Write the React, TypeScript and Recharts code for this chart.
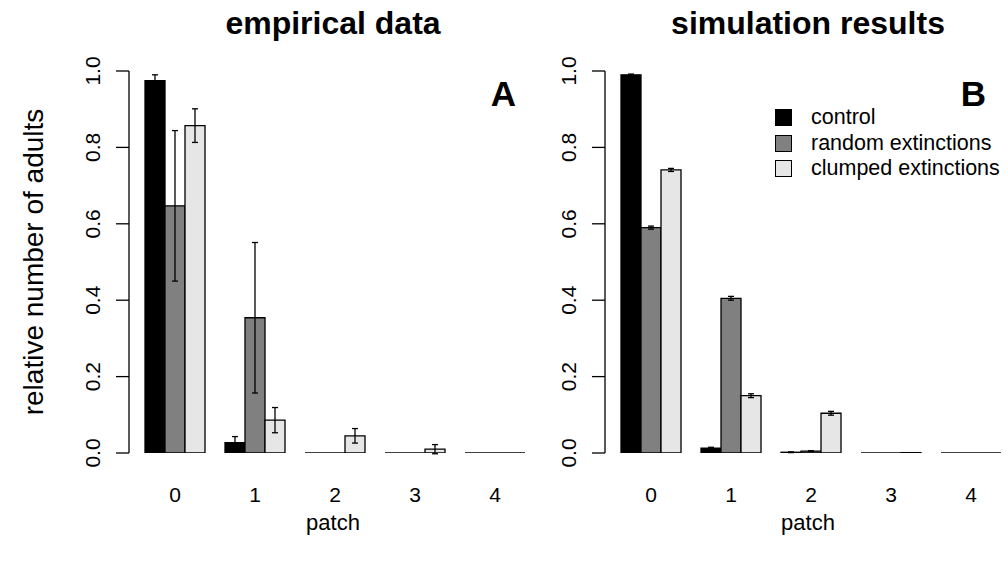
import { BarChart, Bar, XAxis, YAxis, ErrorBar, Legend } from "recharts";

const FONT = "'Liberation Sans', Arial, Helvetica, sans-serif";

const patches = ["0", "1", "2", "3", "4"];
const yTicks = [0, 0.2, 0.4, 0.6, 0.8, 1];
const seriesNames = ["control", "random extinctions", "clumped extinctions"];
const seriesFills = ["#000000", "#808080", "#e6e6e6"];

// empirical data (panel A)
const empControl = [0.975, 0.027, 0, 0, 0];
const empControlErr = [0.015, 0.016, 0, 0, 0];
const empRandom = [0.647, 0.354, 0, 0, 0];
const empRandomErr = [0.197, 0.197, 0, 0, 0];
const empClumped = [0.857, 0.086, 0.045, 0.01, 0];
const empClumpedErr = [0.044, 0.033, 0.019, 0.012, 0];

// simulation results (panel B)
const simControl = [0.99, 0.013, 0.002, 0, 0];
const simControlErr = [0.002, 0.002, 0.001, 0, 0];
const simRandom = [0.59, 0.405, 0.005, 0, 0];
const simRandomErr = [0.004, 0.005, 0.001, 0, 0];
const simClumped = [0.741, 0.15, 0.104, 0.001, 0];
const simClumpedErr = [0.004, 0.005, 0.005, 0, 0];

const empData = patches.map((p, i) => ({
  patch: p,
  control: empControl[i],
  controlErr: empControlErr[i],
  random: empRandom[i],
  randomErr: empRandomErr[i],
  clumped: empClumped[i],
  clumpedErr: empClumpedErr[i],
}));

const simData = patches.map((p, i) => ({
  patch: p,
  control: simControl[i],
  controlErr: simControlErr[i],
  random: simRandom[i],
  randomErr: simRandomErr[i],
  clumped: simClumped[i],
  clumpedErr: simClumpedErr[i],
}));

const keys = ["control", "random", "clumped"];

// R-style bar: outlined, zero-height bars still show as a line
const RBar = (props: any) => {
  const { x, y, width, height, fill } = props;
  const h = height || 0;
  return (
    <path
      d={`M${x},${y}h${width}v${h}h${-width}Z`}
      fill={fill}
      stroke="#000"
      strokeWidth={1.3}
    />
  );
};

const YTick = (props: any) => {
  const { x, y, payload } = props;
  return (
    <text
      x={x}
      y={y}
      transform={`rotate(-90 ${x} ${y})`}
      textAnchor="middle"
      fontSize={21}
      fontFamily={FONT}
      fill="#000"
    >
      {Number(payload.value).toFixed(1)}
    </text>
  );
};

const XTick = (props: any) => {
  const { x, y, payload } = props;
  return (
    <text x={x} y={y} textAnchor="middle" fontSize={21} fontFamily={FONT} fill="#000">
      {payload.value}
    </text>
  );
};

const LegendBox = (props: any) => {
  const items = [...(props.payload || [])].sort(
    (a: any, b: any) => seriesNames.indexOf(a.value) - seriesNames.indexOf(b.value)
  );
  return (
    <div style={{ fontFamily: FONT, fontSize: 21.5, color: "#000" }}>
      {items.map((e: any) => (
        <div key={e.value} style={{ display: "flex", alignItems: "center", height: 25.5 }}>
          <span
            style={{
              display: "inline-block",
              width: 15,
              height: 15,
              background: e.color,
              border: "1.3px solid #000",
              marginRight: 19,
            }}
          />
          <span style={{ whiteSpace: "nowrap" }}>{e.value}</span>
        </div>
      ))}
    </div>
  );
};

const Panel = ({ data, legend }: { data: any[]; legend?: boolean }) => (
  <BarChart
    width={535}
    height={561}
    data={data}
    margin={{ top: 71, right: 0, bottom: 0, left: 0 }}
    barCategoryGap={10}
    barGap={0}
  >
    <XAxis
      dataKey="patch"
      height={108}
      axisLine={false}
      tickLine={false}
      tickSize={0}
      tickMargin={49}
      interval={0}
      padding={{ left: 6, right: 0 }}
      tick={<XTick />}
    />
    <YAxis
      type="number"
      width={129}
      domain={[0, 1]}
      ticks={yTicks}
      allowDataOverflow
      tickSize={13}
      tickMargin={16}
      axisLine={{ stroke: "#000", strokeWidth: 1.3 }}
      tickLine={{ stroke: "#000", strokeWidth: 1.3 }}
      tick={<YTick />}
    />
    {keys.map((k, i) => (
      <Bar
        key={k}
        dataKey={k}
        name={seriesNames[i]}
        fill={seriesFills[i]}
        shape={RBar}
        isAnimationActive={false}
      >
        <ErrorBar dataKey={`${k}Err`} width={3} stroke="#000" strokeWidth={1.3} direction="y" />
      </Bar>
    ))}
    {legend && (
      <Legend
        layout="vertical"
        align="center"
        verticalAlign="middle"
        content={<LegendBox />}
        wrapperStyle={{ position: "absolute", left: 299, top: 105, width: 240 }}
      />
    )}
  </BarChart>
);

export default function App() {
  return (
    <div
      style={{
        position: "absolute",
        left: 0,
        top: 0,
        width: 1007,
        height: 561,
        overflow: "hidden",
        background: "#fff",
        fontFamily: FONT,
      }}
    >
      <div style={{ position: "absolute", left: 0, top: 0 }}>
        <Panel data={empData} />
      </div>
      <div style={{ position: "absolute", left: 476, top: 0 }}>
        <Panel data={simData} legend />
      </div>
      <svg
        width={1007}
        height={561}
        style={{ position: "absolute", left: 0, top: 0, pointerEvents: "none" }}
        fontFamily={FONT}
      >
        <text x={333} y={34} textAnchor="middle" fontSize={32} fontWeight="bold">
          empirical data
        </text>
        <text x={808} y={34} textAnchor="middle" fontSize={32} fontWeight="bold">
          simulation results
        </text>
        <text x={516} y={106} textAnchor="end" fontSize={35} fontWeight="bold">
          A
        </text>
        <text x={986} y={106} textAnchor="end" fontSize={35} fontWeight="bold">
          B
        </text>
        <text
          transform="translate(43 262) rotate(-90)"
          textAnchor="middle"
          fontSize={28}
        >
          relative number of adults
        </text>
        <text x={333} y={530} textAnchor="middle" fontSize={22}>
          patch
        </text>
        <text x={808} y={530} textAnchor="middle" fontSize={22}>
          patch
        </text>
      </svg>
    </div>
  );
}
